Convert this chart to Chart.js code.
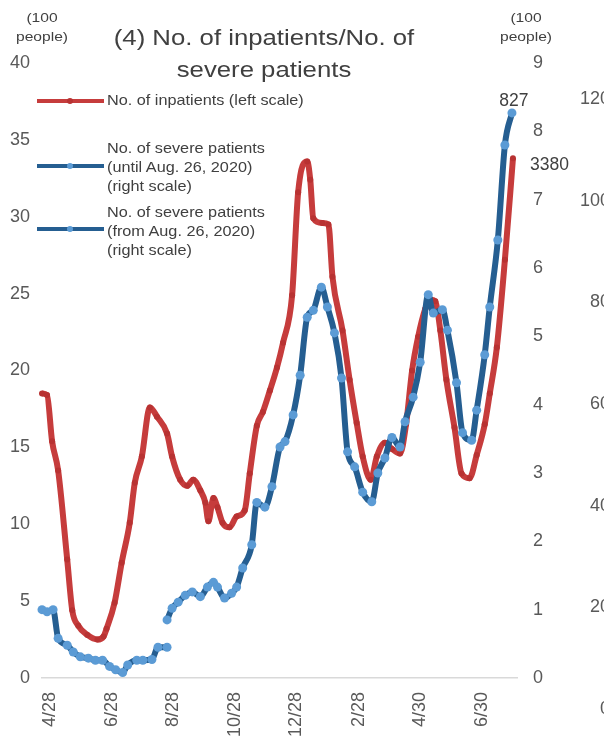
<!DOCTYPE html>
<html>
<head>
<meta charset="utf-8">
<script src="https://cdn.jsdelivr.net/npm/chart.js@4.4.1/dist/chart.umd.min.js"></script>
<style>
  html, body { margin: 0; padding: 0; background: #fff; overflow: hidden; }
  #wrap { position: relative; width: 604px; height: 750px; overflow: hidden; font-family: "Liberation Sans", Arial, sans-serif; color: #404040; }
  #c { position: absolute; left: 0; top: 0; }
  .t { position: absolute; white-space: nowrap; }
  .title { font-size: 22px; left: 0; width: 528px; text-align: center; transform: scaleX(1.17); transform-origin: 264px 50%; }
  .unit { font-size: 13px; text-align: center; width: 80px; transform: scaleX(1.2); line-height: 19px; }
  .leg { font-size: 14.5px; left: 107px; transform: scaleX(1.12); transform-origin: 0 50%; line-height: 19px; }
  .lline { position: absolute; left: 37px; width: 67px; height: 4px; }
  .ldot { position: absolute; width: 6px; height: 6px; border-radius: 50%; left: 67px; }
  .ghost { font-size: 18px; color: #595959; right: -6px; text-align: right; line-height: 20px; }
</style>
</head>
<body>
<div id="wrap">
  <canvas id="c" width="604" height="750"></canvas>
  <div class="t title" style="top:25px;">(4) No. of inpatients/No. of</div>
  <div class="t title" style="top:57px;">severe patients</div>
  <div class="t unit" style="left:2px; top:8px;">(100<br>people)</div>
  <div class="t unit" style="left:486px; top:8px;">(100<br>people)</div>

  <div class="lline" style="top:99px; background:#C63C3C;"></div>
  <div class="ldot" style="top:98px; background:#B83232;"></div>
  <div class="t leg" style="top:91px;">No. of inpatients (left scale)</div>

  <div class="lline" style="top:164px; background:#255E91;"></div>
  <div class="ldot" style="top:163px; background:#5B9BD5;"></div>
  <div class="t leg" style="top:139px;">No. of severe patients<br>(until Aug. 26, 2020)<br>(right scale)</div>

  <div class="lline" style="top:227px; background:#255E91;"></div>
  <div class="ldot" style="top:226px; background:#5B9BD5;"></div>
  <div class="t leg" style="top:203px;">No. of severe patients<br>(from Aug. 26, 2020)<br>(right scale)</div>

  <div id="ghost"></div>
</div>
<script>
// ---- data (days counted from 2020-04-28) ----
const baseDate = '2020-04-28';
const tickDates = ['2020-04-28','2020-06-28','2020-08-28','2020-10-28','2020-12-28','2021-02-28','2021-04-30','2021-06-30'];
const tickLabels = ['4/28','6/28','8/28','10/28','12/28','2/28','4/30','6/30'];

// No. of inpatients (hundreds of people, left scale)
const inpatientDays = [-8,-3,2,8,17,22,28,37,47,53,56,64,71,79,84,91,99,106,116,121,129,136,142,149,154,157,162,166,171,178,185,193,198,205,211,218,225,231,240,246,255,258,261,270,276,280,290,297,304,310,318,324,332,339,347,353,359,365,372,377,382,387,393,401,408,416,423,431,436,443,451,459];
const inpatients = [18.5,18.4,15.4,13.5,7.7,4.4,3.4,2.8,2.5,2.7,3.2,4.9,7.5,10.1,12.7,14.4,17.6,17.0,15.9,14.4,12.9,12.5,12.9,12.2,11.4,10.2,11.7,11.1,10.1,9.8,10.5,10.9,13.3,16.4,17.3,18.7,20.2,21.8,24.9,31.6,33.6,32.4,29.9,29.6,29.5,26.1,22.6,19.4,16.6,14.4,12.9,14.4,15.3,14.9,14.6,16.5,20.0,22.2,24.0,24.6,24.5,22.6,19.4,16.3,13.3,13.0,14.5,16.5,18.5,21.5,27.2,33.8];

// No. of severe patients until Aug. 26, 2020 (hundreds, right scale)
const severeOldDays = [-8,-3,3,8,17,23,30,38,45,52,59,65,72,77,86,92,101,107,116];
const severeOld = [1.0,0.97,1.0,0.58,0.48,0.38,0.31,0.29,0.26,0.26,0.17,0.12,0.08,0.19,0.26,0.26,0.27,0.45,0.45];

// No. of severe patients from Aug. 26, 2020 (hundreds, right scale)
const severeNewDays = [116,121,127,134,141,149,156,162,166,173,180,185,191,200,205,213,220,228,233,241,248,255,261,269,275,282,289,295,302,310,319,325,332,339,347,352,360,367,375,380,389,394,403,409,418,423,431,436,444,451,458];
const severeNew = [0.85,1.02,1.11,1.21,1.26,1.19,1.33,1.40,1.33,1.17,1.24,1.33,1.61,1.95,2.57,2.50,2.80,3.38,3.46,3.85,4.43,5.28,5.38,5.72,5.43,5.05,4.39,3.31,3.09,2.72,2.58,3.0,3.22,3.52,3.38,3.75,4.11,4.62,5.61,5.34,5.39,5.09,4.32,3.59,3.48,3.92,4.73,5.43,6.41,7.80,8.27];

const lastInpatientLabel = '3380';
const lastSevereLabel = '827';
const ghostTicks = ['0','20','40','60','80','100','120'];

// ---- helpers ----
function dayOf(s) {
  const a = s.split('-').map(Number), b = baseDate.split('-').map(Number);
  return Math.round((Date.UTC(a[0], a[1]-1, a[2]) - Date.UTC(b[0], b[1]-1, b[2])) / 86400000);
}
const tickDays = tickDates.map(dayOf);
const pts = (xs, ys) => xs.map((x, i) => ({ x: x, y: ys[i] }));

// ghost (clipped) axis of a neighbouring chart at the right edge
const ghost = document.getElementById('ghost');
ghostTicks.forEach((t, i) => {
  const d = document.createElement('div');
  d.className = 't ghost';
  d.style.top = (698 - i * 101.7) + 'px';
  d.textContent = t;
  ghost.appendChild(d);
});

const RED = '#C63C3C', DARK = '#255E91', LIGHT = '#5B9BD5';
const tickFont = { family: '"Liberation Sans", Arial, sans-serif', size: 18 };

const endLabels = {
  id: 'endLabels',
  afterDatasetsDraw(chart) {
    const ctx = chart.ctx;
    ctx.save();
    ctx.font = '17.5px "Liberation Sans", Arial, sans-serif';
    ctx.fillStyle = '#404040';
    const mb = chart.getDatasetMeta(0).data;   // severe (new)
    const pb = mb[mb.length - 1];
    ctx.textAlign = 'center'; ctx.textBaseline = 'middle';
    ctx.fillText(lastSevereLabel, pb.x + 2, pb.y - 12);
    const mr = chart.getDatasetMeta(2).data;   // inpatients
    const pr = mr[mr.length - 1];
    ctx.textAlign = 'left';
    ctx.fillText(lastInpatientLabel, pr.x + 17, pr.y + 7);
    ctx.restore();
  }
};

new Chart(document.getElementById('c'), {
  type: 'line',
  data: {
    datasets: [
      { label: 'No. of severe patients (from Aug. 26, 2020) (right scale)', data: pts(severeNewDays, severeNew), yAxisID: 'y2',
        borderColor: DARK, borderWidth: 6, pointRadius: 4.5, pointBackgroundColor: LIGHT, pointBorderWidth: 0, cubicInterpolationMode: 'monotone', clip: false },
      { label: 'No. of severe patients (until Aug. 26, 2020) (right scale)', data: pts(severeOldDays, severeOld), yAxisID: 'y2',
        borderColor: DARK, borderWidth: 6, pointRadius: 4.5, pointBackgroundColor: LIGHT, pointBorderWidth: 0, cubicInterpolationMode: 'monotone', clip: false },
      { label: 'No. of inpatients (left scale)', data: pts(inpatientDays, inpatients), yAxisID: 'y',
        borderColor: RED, borderWidth: 6, pointRadius: 3, pointBackgroundColor: '#B83232', pointBorderWidth: 0, cubicInterpolationMode: 'monotone', clip: false }
    ]
  },
  options: {
    responsive: false,
    animation: false,
    layout: { padding: { top: 63, left: 0, right: 0, bottom: 0 } },
    plugins: { legend: { display: false }, title: { display: false }, tooltip: { enabled: false } },
    scales: {
      x: {
        type: 'linear', min: -8, max: 463,
        afterBuildTicks: (s) => { s.ticks = tickDays.map(v => ({ value: v })); },
        afterFit: (s) => { s.height = 72; },
        ticks: { autoSkip: false, maxRotation: 90, minRotation: 90, padding: 14, color: '#595959', font: tickFont,
                 callback: (v) => { const i = tickDays.indexOf(v); return i >= 0 ? tickLabels[i] : ''; } },
        grid: { display: false, drawTicks: false },
        border: { display: true, color: '#D9D9D9', width: 1.5 }
      },
      y: {
        position: 'left', min: 0, max: 40,
        afterFit: (s) => { s.width = 42; },
        ticks: { stepSize: 5, padding: 12, color: '#595959', font: tickFont },
        grid: { display: false, drawTicks: false },
        border: { display: false }
      },
      y2: {
        position: 'right', min: 0, max: 9,
        afterFit: (s) => { s.width = 87; },
        ticks: { stepSize: 1, padding: 16, color: '#595959', font: tickFont },
        grid: { display: false, drawTicks: false },
        border: { display: false }
      }
    }
  },
  plugins: [endLabels]
});
</script>
</body>
</html>
